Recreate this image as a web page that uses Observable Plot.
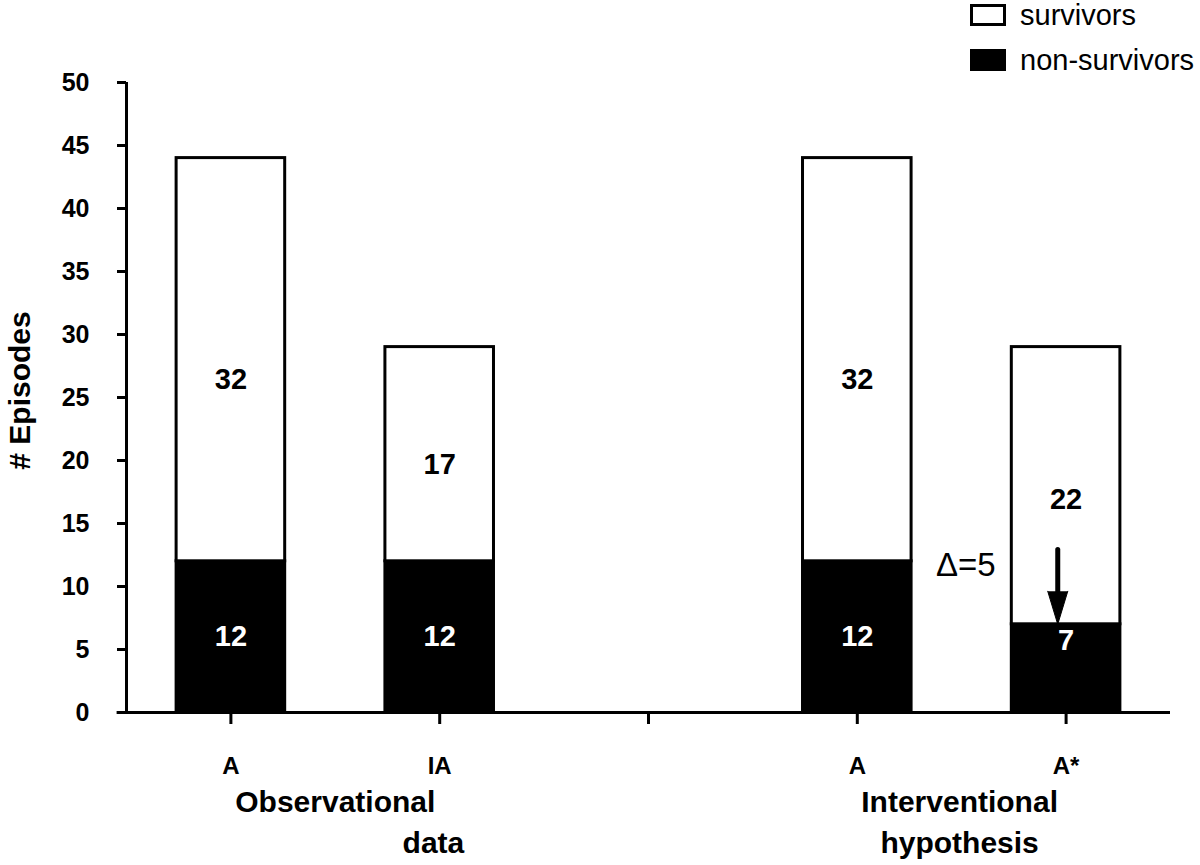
<!DOCTYPE html>
<html><head><meta charset="utf-8">
<script src="https://cdn.jsdelivr.net/npm/d3@7"></script>
<script src="https://cdn.jsdelivr.net/npm/@observablehq/plot@0.6"></script>
<style>
body{margin:0;background:#fff;font-family:"Liberation Sans",Arial,sans-serif}
#wrap{position:relative;width:1200px;height:865px}
.legend{position:absolute;left:970px;top:4px;font-size:29px;color:#000;line-height:1}
.legend .row{display:flex;align-items:center;height:22px;margin-bottom:23px}
.legend .sw{width:30px;height:16px;border:3px solid #000;margin-right:14px;box-sizing:content-box}
</style></head><body>
<div id="wrap"><div id="chart"></div>
<div class="legend">
  <div class="row"><span class="sw" style="background:#fff"></span><span>survivors</span></div>
  <div class="row"><span class="sw" style="background:#000"></span><span>non-survivors</span></div>
</div></div>
<script>
// ---- data ----
const slots = [0, 1, 2, 3, 4];
const tickLabels = ["A", "IA", "", "A", "A*"];
const barSlots = [0, 1, 3, 4];
const nonSurvivors = [12, 12, 12, 7];
const survivors = [32, 17, 32, 22];
const statuses = ["survivors", "non-survivors"];
const yTicks = [0, 5, 10, 15, 20, 25, 30, 35, 40, 45, 50];
const groupLine1 = [{x: 0.5, text: "Observational"}, {x: 3.49, text: "Interventional"}];
const groupLine2 = [{x: 0.97, text: "data"}, {x: 3.49, text: "hypothesis"}];
const deltaNote = [{x: 3.52, y: 11.7, text: "\u0394=5"}];
const arrowNote = [{x: 3.96, from: 12.9, to: nonSurvivors[3]}];

// ---- build rows ----
const rows = [];
barSlots.forEach((s, i) => {
  rows.push({slot: s, status: "non-survivors", value: nonSurvivors[i], y1: 0, y2: nonSurvivors[i]});
  rows.push({slot: s, status: "survivors", value: survivors[i], y1: nonSurvivors[i], y2: nonSurvivors[i] + survivors[i]});
});
const half = 0.26;
const F = "Liberation Sans, Arial, sans-serif";

const chart = Plot.plot({
  width: 1200,
  height: 865,
  marginLeft: 126,
  marginRight: 30,
  marginTop: 82,
  marginBottom: 153,
  style: {fontFamily: F, background: "white", color: "black", overflow: "visible"},
  x: {domain: [-0.5, 4.5], axis: null},
  y: {domain: [0, 50], axis: null},
  color: {domain: statuses, range: ["white", "black"]},
  marks: [
    Plot.rect(rows, {x1: d => d.slot - half, x2: d => d.slot + half, y1: "y1", y2: "y2", fill: "status", stroke: "black", strokeWidth: 3}),
    Plot.ruleX([-0.5], {y1: 0, y2: 50, stroke: "black", strokeWidth: 3}),
    Plot.ruleY([0], {x1: -0.545, x2: 4.5, stroke: "black", strokeWidth: 3}),
    Plot.axisY({ticks: yTicks, tickSize: 9, tickPadding: 28, strokeWidth: 3, fontSize: 25, fontWeight: "bold", label: null, fontFamily: F}),
    Plot.axisX({ticks: slots, tickFormat: i => tickLabels[i], tickSize: 12, tickPadding: 32, strokeWidth: 3, fontSize: 24, fontWeight: "bold", label: null, fontFamily: F}),
    Plot.text(["# Episodes"], {frameAnchor: "left", textAnchor: "middle", dx: -106, dy: -7, rotate: -90, fontSize: 30, fontWeight: "bold", fontFamily: F}),
    Plot.text(rows.filter(d => d.status === "survivors"), {x: "slot", y: d => d.y1 + 0.45 * d.value, text: "value", fill: "black", fontSize: 29, fontWeight: "bold", fontFamily: F}),
    Plot.text(rows.filter(d => d.status === "non-survivors"), {x: "slot", y: d => Math.max(d.value / 2, 5.7), text: "value", fill: "white", fontSize: 29, fontWeight: "bold", fontFamily: F}),
    Plot.text(groupLine1, {x: "x", text: "text", frameAnchor: "bottom", dy: 99, fontSize: 30, fontWeight: "bold", fontFamily: F}),
    Plot.text(groupLine2, {x: "x", text: "text", frameAnchor: "bottom", dy: 140, fontSize: 30, fontWeight: "bold", fontFamily: F}),
    Plot.text(deltaNote, {x: "x", y: "y", text: "text", fontSize: 33, fontFamily: F}),
    Plot.ruleX(arrowNote, {x: "x", y1: "from", y2: d => d.to + 2.3, stroke: "black", strokeWidth: 5, strokeLinecap: "round"}),
    Plot.vector(arrowNote, {x: "x", y: "to", shape: "spike", anchor: "end", rotate: 180, length: 33, r: 10, fill: "black", stroke: "black", strokeWidth: 1})
  ]
});
document.getElementById("chart").append(chart);
</script>
</body></html>
